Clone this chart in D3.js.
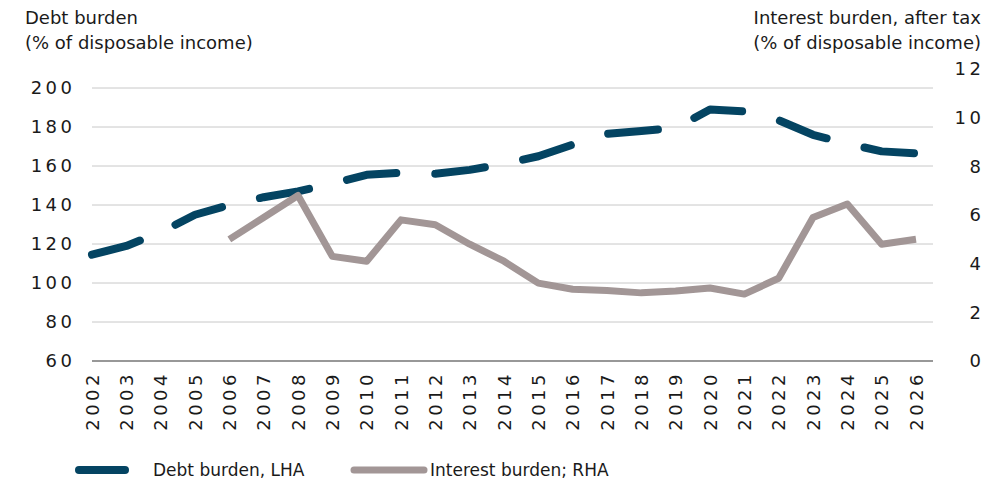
<!DOCTYPE html>
<head>
  <meta charset="utf-8">
  <script src="https://d3js.org/d3.v7.min.js"></script>
  <style>
    body { margin:0; background:#fff; }
    text { font-family: "DejaVu Sans", sans-serif; fill:#1a1a1a; }
  </style>
</head>
<body>
  <div id="chart"></div>
  <script>
    // data
    const years = d3.range(2002, 2027);
    const debtBurden = [114.5, 119, 126, 135, 140, 144, 147, 151, 155.5, 156.5, 156, 158, 161,
                        165, 171, 176.5, 178, 179.5, 189, 188, 183.5, 176, 171.5, 167.5, 166.5];
    const interestYears = d3.range(2006, 2027);
    const interestBurden = [5.0, 5.9, 6.8, 4.3, 4.1, 5.8, 5.6, 4.8, 4.1, 3.2, 2.95, 2.9, 2.8,
                            2.88, 3.0, 2.75, 3.4, 5.9, 6.45, 4.8, 5.0];
    const leftTicks = [60, 80, 100, 120, 140, 160, 180, 200];
    const rightTicks = [0, 2, 4, 6, 8, 10, 12];

    const width = 1004, height = 485;
    const debtColor = "#044462", interestColor = "#a29696";

    const svg = d3.select("#chart").append("svg")
      .attr("width", width)
      .attr("height", height);

    const x = d3.scaleLinear().domain([2002, 2026]).range([92, 916]);
    const yL = d3.scaleLinear().domain([60, 200]).range([361, 88]);
    const yR = d3.scaleLinear().domain([0, 12]).range([361, 69]);

    // gridlines
    svg.append("g").selectAll("line")
      .data(leftTicks.filter(d => d > 60))
      .join("line")
      .attr("x1", 92).attr("x2", 933)
      .attr("y1", d => yL(d)).attr("y2", d => yL(d))
      .attr("stroke", "#c8c8c8").attr("stroke-width", 1);

    // baseline
    svg.append("line")
      .attr("x1", 92).attr("x2", 933)
      .attr("y1", yL(60)).attr("y2", yL(60))
      .attr("stroke", "#333").attr("stroke-width", 1.2);

    // left axis labels
    svg.append("g").selectAll("text")
      .data(leftTicks)
      .join("text")
      .attr("x", 75.5).attr("y", d => yL(d))
      .attr("dy", "0.36em")
      .attr("text-anchor", "end")
      .attr("font-size", 18)
      .attr("letter-spacing", 3.5)
      .text(d => d);

    // right axis labels
    svg.append("g").selectAll("text")
      .data(rightTicks)
      .join("text")
      .attr("x", 984.5).attr("y", d => yR(d))
      .attr("dy", "0.36em")
      .attr("text-anchor", "end")
      .attr("font-size", 18)
      .attr("letter-spacing", 3.5)
      .text(d => d);

    // year labels
    svg.append("g").selectAll("text")
      .data(years)
      .join("text")
      .attr("transform", d => "translate(" + (x(d) + 6.5) + ",371) rotate(-90)")
      .attr("text-anchor", "end")
      .attr("font-size", 18)
      .attr("letter-spacing", 3.5)
      .text(d => d);

    // axis titles
    const lt = svg.append("text").attr("font-size", 18);
    lt.append("tspan").attr("x", 25).attr("y", 24).text("Debt burden");
    lt.append("tspan").attr("x", 25).attr("y", 49).text("(% of disposable income)");

    const rt = svg.append("text").attr("font-size", 18).attr("text-anchor", "end");
    rt.append("tspan").attr("x", 981).attr("y", 24).text("Interest burden, after tax");
    rt.append("tspan").attr("x", 981).attr("y", 49).text("(% of disposable income)");

    // lines
    const debtLine = d3.line()
      .x((d, i) => x(years[i]))
      .y(d => yL(d));
    svg.append("path")
      .datum(debtBurden)
      .attr("d", debtLine)
      .attr("fill", "none")
      .attr("stroke", debtColor)
      .attr("stroke-width", 8)
      .attr("stroke-linecap", "round")
      .attr("stroke-linejoin", "round")
      .attr("stroke-dasharray", "50,39");

    const interestLine = d3.line()
      .x((d, i) => x(interestYears[i]))
      .y(d => yR(d));
    svg.append("path")
      .datum(interestBurden)
      .attr("d", interestLine)
      .attr("fill", "none")
      .attr("stroke", interestColor)
      .attr("stroke-width", 7)
      .attr("stroke-linejoin", "round");

    // legend
    const lg = svg.append("g");
    lg.append("line")
      .attr("x1", 79).attr("x2", 125).attr("y1", 470).attr("y2", 470)
      .attr("stroke", debtColor).attr("stroke-width", 8).attr("stroke-linecap", "round");
    lg.append("text").attr("x", 153).attr("y", 470).attr("dy", "0.36em")
      .attr("font-size", 17).text("Debt burden, LHA");
    lg.append("line")
      .attr("x1", 354).attr("x2", 424).attr("y1", 470).attr("y2", 470)
      .attr("stroke", interestColor).attr("stroke-width", 7).attr("stroke-linecap", "round");
    lg.append("text").attr("x", 430).attr("y", 470).attr("dy", "0.36em")
      .attr("font-size", 17).text("Interest burden; RHA");
  </script>
</body>
